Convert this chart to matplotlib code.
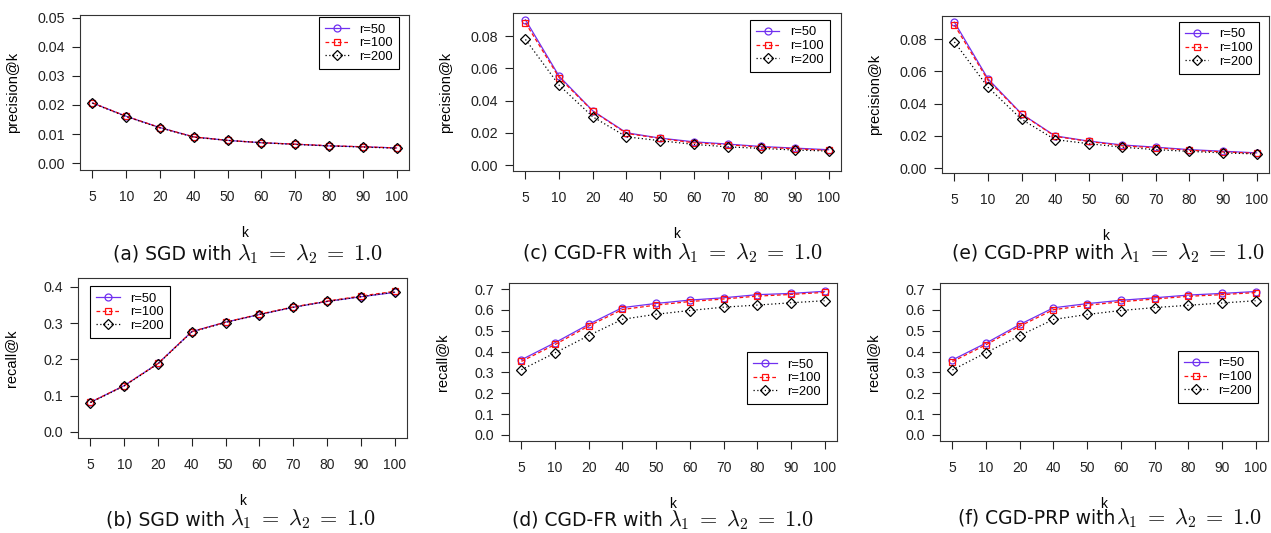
import matplotlib
matplotlib.use("Agg")
from matplotlib import pyplot as plt

plt.rcParams['mathtext.fontset'] = 'cm'

k_labels = ['5', '10', '20', '40', '50', '60', '70', '80', '90', '100']
ranks = ['r=50', 'r=100', 'r=200']

# precision@k
prec_sgd = {
    'r=50':  [0.0207, 0.0161, 0.0122, 0.0090, 0.0078, 0.0070, 0.0065, 0.0059, 0.0056, 0.0052],
    'r=100': [0.0207, 0.0161, 0.0122, 0.0090, 0.0078, 0.0070, 0.0065, 0.0060, 0.0056, 0.0052],
    'r=200': [0.0206, 0.0160, 0.0121, 0.0089, 0.0078, 0.0070, 0.0064, 0.0059, 0.0055, 0.0051],
}
prec_fr = {
    'r=50':  [0.0901, 0.0551, 0.0336, 0.0200, 0.0167, 0.0144, 0.0130, 0.0115, 0.0105, 0.0095],
    'r=100': [0.0882, 0.0542, 0.0334, 0.0196, 0.0165, 0.0138, 0.0126, 0.0111, 0.0101, 0.0091],
    'r=200': [0.0779, 0.0495, 0.0299, 0.0175, 0.0151, 0.0128, 0.0113, 0.0103, 0.0093, 0.0087],
}
prec_prp = {
    'r=50':  [0.0905, 0.0553, 0.0336, 0.0199, 0.0167, 0.0143, 0.0129, 0.0114, 0.0104, 0.0094],
    'r=100': [0.0887, 0.0544, 0.0334, 0.0196, 0.0165, 0.0138, 0.0125, 0.0110, 0.0100, 0.0091],
    'r=200': [0.0782, 0.0501, 0.0302, 0.0176, 0.0151, 0.0129, 0.0114, 0.0103, 0.0094, 0.0087],
}

# recall@k
rec_sgd = {
    'r=50':  [0.082, 0.128, 0.189, 0.277, 0.303, 0.324, 0.344, 0.360, 0.373, 0.385],
    'r=100': [0.082, 0.128, 0.189, 0.277, 0.303, 0.325, 0.345, 0.361, 0.375, 0.388],
    'r=200': [0.081, 0.127, 0.188, 0.276, 0.302, 0.324, 0.344, 0.360, 0.373, 0.386],
}
rec_fr = {
    'r=50':  [0.361, 0.443, 0.531, 0.611, 0.631, 0.647, 0.658, 0.673, 0.679, 0.689],
    'r=100': [0.353, 0.434, 0.523, 0.602, 0.623, 0.640, 0.652, 0.666, 0.674, 0.684],
    'r=200': [0.313, 0.394, 0.477, 0.555, 0.579, 0.597, 0.613, 0.623, 0.634, 0.644],
}
rec_prp = {
    'r=50':  [0.360, 0.441, 0.530, 0.610, 0.630, 0.646, 0.658, 0.671, 0.679, 0.688],
    'r=100': [0.352, 0.433, 0.522, 0.601, 0.622, 0.639, 0.652, 0.665, 0.673, 0.683],
    'r=200': [0.312, 0.395, 0.477, 0.554, 0.578, 0.597, 0.611, 0.622, 0.633, 0.644],
}

styles = {
    'r=50':  dict(color='#7030f0', ls='-', marker='o', ms=5.0),
    'r=100': dict(color='#ff1010', ls=(0, (3, 2)), marker='s', ms=4.6),
    'r=200': dict(color='black', ls=(0, (1, 2)), marker='D', ms=4.6),
}

W, H = 1271, 533
fig = plt.figure(figsize=(W / 100, H / 100), dpi=100)
sans = 'Liberation Sans'
math_part = r'$\lambda_1\;=\;\lambda_2\;=\;1.0$'

# box (px), data, ylabel, ylim, yticks, fmt, legend loc, anchor, caption text, (math x, baseline y, gap)
panels = [
    ((80, 15, 409, 170), prec_sgd, 'precision@k', (-0.0024, 0.051),
     [0, 0.01, 0.02, 0.03, 0.04, 0.05], '%.2f', 'upper right', (0.970, 0.987),
     '(a) SGD with', (237, 260, 5)),
    ((513, 13, 841, 171), prec_fr, 'precision@k', (-0.0037, 0.0943),
     [0, 0.02, 0.04, 0.06, 0.08], '%.2f', 'upper right', (0.966, 0.956),
     '(c) CGD-FR with', (677, 259, 5)),
    ((942, 16, 1269, 173), prec_prp, 'precision@k', (-0.0031, 0.0943),
     [0, 0.02, 0.04, 0.06, 0.08], '%.2f', 'upper right', (0.969, 0.962),
     '(e) CGD-PRP with', (1119, 259, 5)),
    ((78, 278, 407, 438), rec_sgd, 'recall@k', (-0.0166, 0.4248),
     [0, 0.1, 0.2, 0.3, 0.4], '%.1f', 'upper left', (0.036, 0.95),
     '(b) SGD with', (230, 525, 5)),
    ((509, 283, 837, 441), rec_fr, 'recall@k', (-0.029, 0.729),
     [0, 0.1, 0.2, 0.3, 0.4, 0.5, 0.6, 0.7], '%.1f', 'upper right', (0.970, 0.563),
     '(d) CGD-FR with', (668, 526, 5)),
    ((940, 283, 1268, 441), rec_prp, 'recall@k', (-0.029, 0.729),
     [0, 0.1, 0.2, 0.3, 0.4, 0.5, 0.6, 0.7], '%.1f', 'upper right', (0.970, 0.57),
     '(f) CGD-PRP with', (1116, 524, 1)),
]

x = list(range(len(k_labels)))

for box, data, ylab, ylim, yticks, yfmt, loc, anchor, caption, cpos in panels:
    x0, y0, x1, y1 = box
    ax = fig.add_axes([x0 / W, 1 - y1 / H, (x1 - x0) / W, (y1 - y0) / H])
    for r in ranks:
        st = styles[r]
        ax.plot(x, data[r], color=st['color'], linestyle=st['ls'], lw=0.9,
                marker=st['marker'], ms=st['ms'], mfc='none', mec=st['color'],
                mew=0.9, label=r)
    ax.set_xlim(-0.37, 9.37)
    ax.set_ylim(*ylim)
    ax.set_xticks(x)
    ax.set_xticklabels(k_labels, fontname=sans, fontsize=10)
    ax.set_yticks(yticks)
    ax.set_yticklabels([yfmt % v for v in yticks], fontname=sans, fontsize=10.3)
    ax.tick_params(axis='x', direction='out', length=5.5, width=0.8, pad=9, colors='#222222')
    ax.tick_params(axis='y', direction='out', length=5.5, width=0.8, pad=5, colors='#222222')
    for s in ax.spines.values():
        s.set_linewidth(0.8)
        s.set_color('#333333')
    ax.set_ylabel(ylab, fontname=sans, fontsize=10.5)
    ax.yaxis.set_label_coords(-0.183, 0.5)
    ax.set_xlabel('k', fontname=sans, fontsize=10)
    ax.xaxis.set_label_coords(0.5, -56 / (y1 - y0))
    leg = ax.legend(loc=loc, bbox_to_anchor=anchor, borderaxespad=0,
                    prop={'family': sans, 'size': 9.3}, fancybox=False,
                    edgecolor='black', framealpha=1, handlelength=1.8,
                    handletextpad=0.8, labelspacing=0.12, borderpad=0.5)
    leg.get_frame().set_linewidth(0.8)

    # caption: plain words, then the math part in a larger size
    mx, by, gap = cpos
    fig.text((mx - gap) / W, 1 - by / H, caption, ha='right', va='baseline',
             fontsize=13.5, color='#111111')
    fig.text(mx / W, 1 - by / H, math_part, ha='left', va='baseline',
             fontsize=16, color='#111111')

plt.savefig("out.png", dpi=100)
